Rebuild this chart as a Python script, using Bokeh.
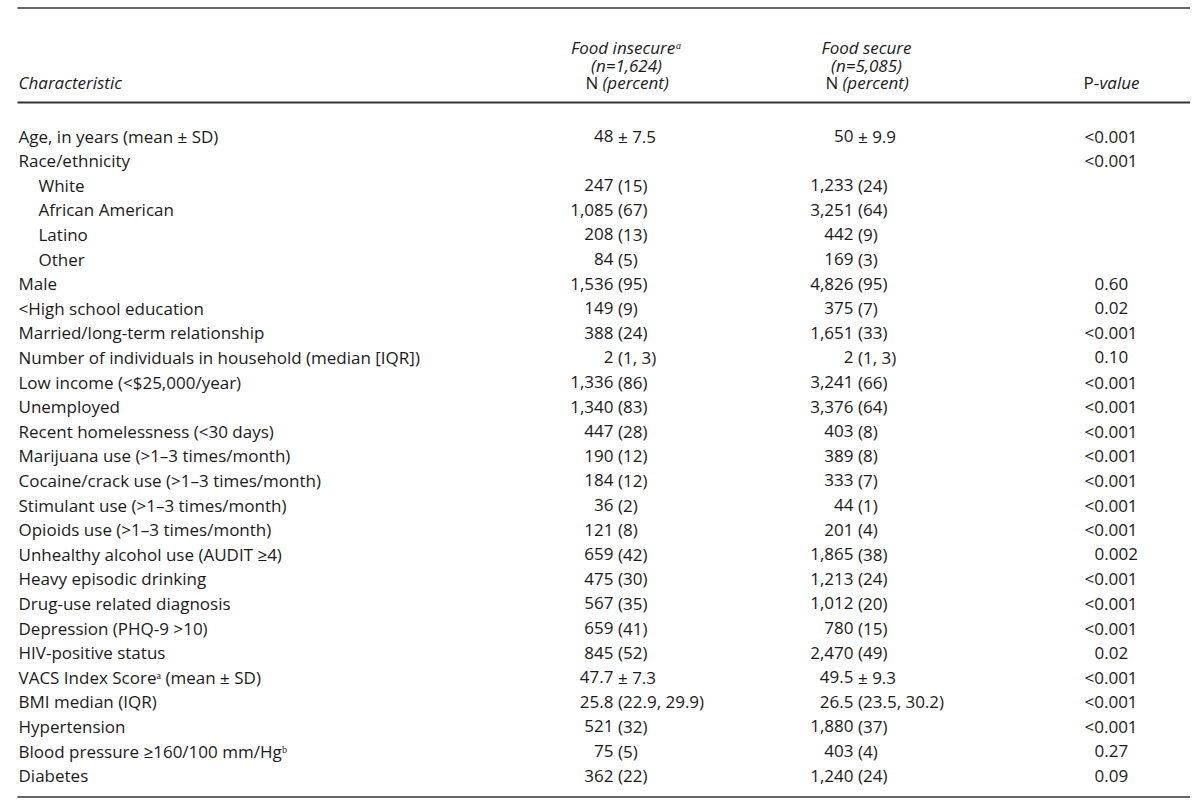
from bokeh.plotting import figure
from bokeh.models import Range1d, ColumnDataSource
from bokeh.core.properties import value
from bokeh.embed import file_html
from bokeh.resources import INLINE

# ---------------- data ----------------
characteristics = [
    "Age, in years (mean ± SD)", "Race/ethnicity", "White", "African American",
    "Latino", "Other", "Male", "<High school education",
    "Married/long-term relationship",
    "Number of individuals in household (median [IQR])",
    "Low income (<$25,000/year)", "Unemployed", "Recent homelessness (<30 days)",
    "Marijuana use (>1–3 times/month)", "Cocaine/crack use (>1–3 times/month)",
    "Stimulant use (>1–3 times/month)", "Opioids use (>1–3 times/month)",
    "Unhealthy alcohol use (AUDIT ≥4)", "Heavy episodic drinking",
    "Drug-use related diagnosis", "Depression (PHQ-9 >10)", "HIV-positive status",
    "VACS Index Scoreᵃ (mean ± SD)", "BMI median (IQR)", "Hypertension",
    "Blood pressure ≥160/100 mm/Hgᵇ", "Diabetes",
]
indented = ["White", "African American", "Latino", "Other"]

food_insecure = [
    "48 ± 7.5", "", "247 (15)", "1,085 (67)", "208 (13)", "84 (5)", "1,536 (95)",
    "149 (9)", "388 (24)", "2 (1, 3)", "1,336 (86)", "1,340 (83)", "447 (28)",
    "190 (12)", "184 (12)", "36 (2)", "121 (8)", "659 (42)", "475 (30)",
    "567 (35)", "659 (41)", "845 (52)", "47.7 ± 7.3", "25.8 (22.9, 29.9)",
    "521 (32)", "75 (5)", "362 (22)",
]
food_secure = [
    "50 ± 9.9", "", "1,233 (24)", "3,251 (64)", "442 (9)", "169 (3)", "4,826 (95)",
    "375 (7)", "1,651 (33)", "2 (1, 3)", "3,241 (66)", "3,376 (64)", "403 (8)",
    "389 (8)", "333 (7)", "44 (1)", "201 (4)", "1,865 (38)", "1,213 (24)",
    "1,012 (20)", "780 (15)", "2,470 (49)", "49.5 ± 9.3", "26.5 (23.5, 30.2)",
    "1,880 (37)", "403 (4)", "1,240 (24)",
]
p_values = [
    "<0.001", "<0.001", "", "", "", "", "0.60", "0.02", "<0.001", "0.10",
    "<0.001", "<0.001", "<0.001", "<0.001", "<0.001", "<0.001", "<0.001",
    "0.002", "<0.001", "<0.001", "<0.001", "0.02", "<0.001", "<0.001",
    "<0.001", "0.27", "0.09",
]

# ---------------- layout ----------------
W, H = 1190, 798
FONT = "Open Sans"
FS = "17px"
COLOR = "#1a1a1a"
ROW0, PITCH = 135.5, 24.6
X_LABEL, X_INDENT = 18, 38
XA1, XA2 = 613, 853
XP, LT_W = 1094, 10

p = figure(width=W, height=H, output_backend="svg", toolbar_location=None,
           x_range=Range1d(0, W), y_range=Range1d(H, 0),
           min_border=0, outline_line_color=None)
p.axis.visible = False
p.grid.visible = False
p.background_fill_color = "white"
p.border_fill_color = "white"

# rules
p.segment(x0=[17, 17, 17], y0=[7.5, 102, 796.5], x1=[W, W, W],
          y1=[7.5, 102, 796.5], line_color="#333333",
          line_width=[1.3, 2.2, 1.4])

def txt(xs, ys, texts, align="left", style="normal", size=FS):
    src = ColumnDataSource(dict(x=xs, y=ys, t=texts))
    p.text(x="x", y="y", text="t", source=src, text_font=value(FONT),
           text_font_size=size, text_font_style=style, text_color=COLOR,
           text_align=align, text_baseline="middle")

# header
txt([X_LABEL], [82], ["Characteristic"], style="italic")
txt([626, 866], [47, 47], ["Food insecureᵃ", "Food secure"], align="center", style="italic")
txt([626, 866], [65, 65], ["(n=1,624)", "(n=5,085)"], align="center", style="italic")
txt([585, 825], [82, 82], ["N", "N"], align="left")
txt([602, 842], [82, 82], ["(percent)", "(percent)"], align="left", style="italic")
txt([1083], [82], ["P-"], align="left")
txt([1099], [82], ["value"], align="left", style="italic")

ys = [ROW0 + i * PITCH for i in range(len(characteristics))]
xs = [X_INDENT if c in indented else X_LABEL for c in characteristics]
txt(xs, ys, characteristics)

for col, xa in ((food_insecure, XA1), (food_secure, XA2)):
    heads = [s.split(" ", 1)[0] if s else "" for s in col]
    tails = [s.split(" ", 1)[1] if " " in s else "" for s in col]
    txt([xa] * len(col), ys, heads, align="right")
    txt([xa + 4.5] * len(col), ys, tails, align="left")

px = [XP - LT_W if s.startswith("<") else XP for s in p_values]
txt(px, ys, p_values)

open("out.html", "w").write(file_html(p, INLINE))
